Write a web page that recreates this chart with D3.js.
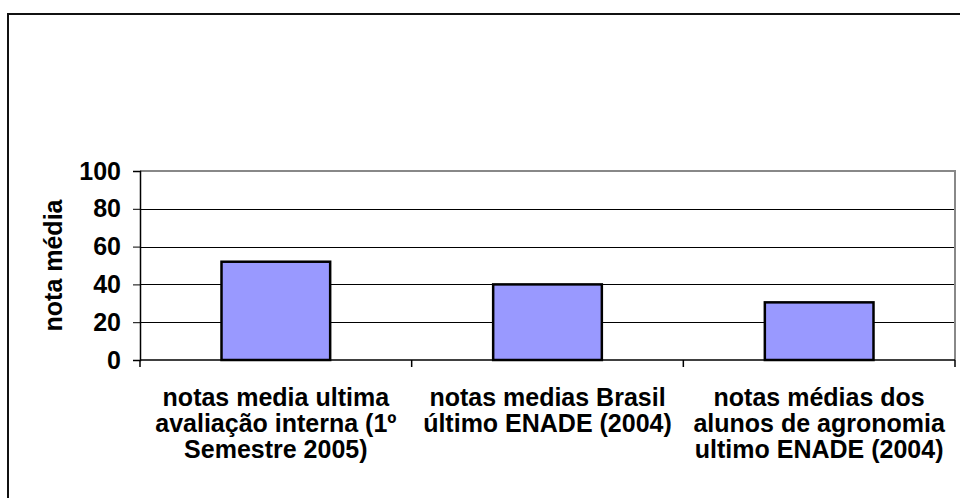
<!DOCTYPE html>
<html>
<head>
<meta charset="utf-8">
<script src="https://cdn.jsdelivr.net/npm/d3@7"></script>
<style>
  html, body { margin: 0; padding: 0; background: #fff; }
  svg { display: block; }
  text { font-family: Arial, "Liberation Sans", sans-serif; font-weight: bold; fill: #000; }
</style>
</head>
<body>
<svg id="chart" width="960" height="498"></svg>
<script>
// Category labels, one array of lines per bar
const categories = [
  ["notas media ultima", "avaliação interna (1º", "Semestre 2005)"],
  ["notas medias Brasil", "último ENADE (2004)"],
  ["notas médias dos", "alunos de agronomia", "ultimo ENADE (2004)"]
];
const values = [52, 40, 30.5];
const yTicks = [0, 20, 40, 60, 80, 100];
const yTitle = "nota média";

const svg = d3.select("#chart");
const FS = 25;

// Chart frame (runs off the right and bottom edges)
svg.append("rect")
  .attr("x", 8).attr("y", 14)
  .attr("width", 1000).attr("height", 600)
  .attr("fill", "#fff").attr("stroke", "#111").attr("stroke-width", 2);

const plot = { left: 140, top: 171, right: 955, bottom: 360 };

const x = d3.scaleBand()
  .domain(d3.range(categories.length))
  .range([plot.left, plot.right])
  .paddingInner(0).paddingOuter(0);

const y = d3.scaleLinear().domain([0, 100]).range([plot.bottom, plot.top]);

const g = svg.append("g");

// Horizontal gridlines
g.selectAll("line.grid")
  .data(yTicks.filter(t => t > 0 && t < 100))
  .join("line")
  .attr("class", "grid")
  .attr("x1", plot.left).attr("x2", plot.right)
  .attr("y1", d => Math.round(y(d)) + 0.5).attr("y2", d => Math.round(y(d)) + 0.5)
  .attr("stroke", "#000").attr("stroke-width", 1);

// Plot-area border (top and right in gray)
g.append("path")
  .attr("d", `M${plot.left},${plot.top} H${plot.right} V${plot.bottom}`)
  .attr("fill", "none").attr("stroke", "#888").attr("stroke-width", 2);

// Bars: width = band / 2.5 (gap width 150%)
const bw = x.bandwidth() / 2.5;
g.selectAll("rect.bar")
  .data(values)
  .join("rect")
  .attr("class", "bar")
  .attr("x", (d, i) => x(i) + (x.bandwidth() - bw) / 2)
  .attr("y", d => y(d))
  .attr("width", bw)
  .attr("height", d => y(0) - y(d))
  .attr("fill", "#9999FF")
  .attr("stroke", "#000").attr("stroke-width", 2.5);

// Y axis
const yAxis = d3.axisLeft(y).tickValues(yTicks).tickSize(7).tickPadding(12);
const ya = svg.append("g")
  .attr("transform", `translate(${plot.left},0)`)
  .call(yAxis);
ya.select(".domain").attr("stroke", "#000").attr("stroke-width", 1.5);
ya.selectAll(".tick line").attr("stroke", "#000");
ya.selectAll(".tick text")
  .attr("font-size", FS).attr("font-weight", "bold")
  .attr("font-family", "Arial, 'Liberation Sans', sans-serif")
  .attr("fill", "#000");

// X axis: category ticks on boundaries
const bounds = d3.range(categories.length + 1).map(i =>
  i < categories.length ? x(i) : x(i - 1) + x.bandwidth());
svg.append("line")
  .attr("x1", plot.left).attr("x2", plot.right)
  .attr("y1", plot.bottom).attr("y2", plot.bottom)
  .attr("stroke", "#000").attr("stroke-width", 1.5);
svg.selectAll("line.xtick")
  .data(bounds)
  .join("line")
  .attr("class", "xtick")
  .attr("x1", d => d).attr("x2", d => d)
  .attr("y1", plot.bottom).attr("y2", plot.bottom + 7)
  .attr("stroke", "#000").attr("stroke-width", 1.5);

// Category labels
const lab = svg.selectAll("text.xlab")
  .data(categories)
  .join("text")
  .attr("class", "xlab")
  .attr("text-anchor", "middle")
  .attr("font-size", FS)
  .attr("x", (d, i) => x(i) + x.bandwidth() / 2)
  .attr("y", 406);
lab.selectAll("tspan")
  .data(d => d)
  .join("tspan")
  .attr("x", function () { return d3.select(this.parentNode).attr("x"); })
  .attr("dy", (d, i) => i === 0 ? 0 : 26)
  .text(d => d);

// Y axis title
svg.append("text")
  .attr("transform", `translate(62,${(plot.top + plot.bottom) / 2}) rotate(-90)`)
  .attr("text-anchor", "middle")
  .attr("font-size", FS)
  .text(yTitle);
</script>
</body>
</html>
